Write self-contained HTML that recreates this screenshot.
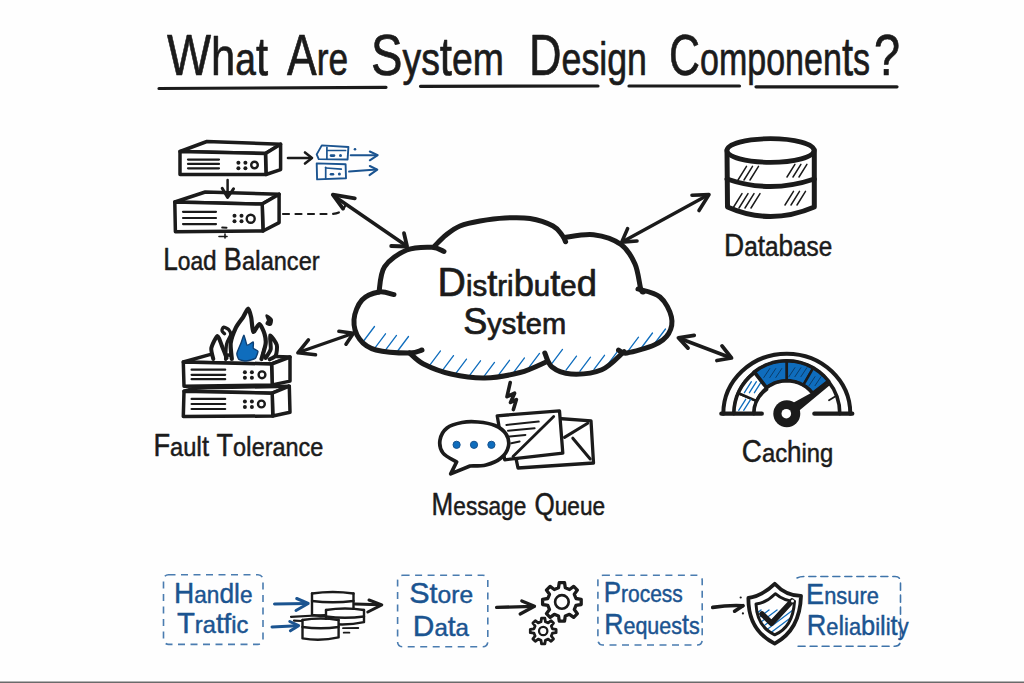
<!DOCTYPE html>
<html><head><meta charset="utf-8"><style>
html,body{margin:0;padding:0;background:#fefefe;}
svg{display:block;font-family:"Liberation Sans",sans-serif;}
</style></head><body>
<svg width="1024" height="683" viewBox="0 0 1024 683">
<rect width="1024" height="683" fill="#fefefe"/>
<text x="167" y="75" fill="#1b1b1b" textLength="101.0" lengthAdjust="spacingAndGlyphs" stroke="#1b1b1b" stroke-width="0.7" stroke-linejoin="round"><tspan font-size="58">W</tspan><tspan font-size="54">h</tspan><tspan font-size="46">a</tspan><tspan font-size="54">t</tspan></text><text x="287" y="75" fill="#1b1b1b" textLength="61.0" lengthAdjust="spacingAndGlyphs" stroke="#1b1b1b" stroke-width="0.7" stroke-linejoin="round"><tspan font-size="58">A</tspan><tspan font-size="46">r</tspan><tspan font-size="46">e</tspan></text><text x="371" y="75" fill="#1b1b1b" textLength="133.0" lengthAdjust="spacingAndGlyphs" stroke="#1b1b1b" stroke-width="0.7" stroke-linejoin="round"><tspan font-size="58">S</tspan><tspan font-size="46">y</tspan><tspan font-size="46">s</tspan><tspan font-size="54">t</tspan><tspan font-size="46">e</tspan><tspan font-size="46">m</tspan></text><text x="529" y="75" fill="#1b1b1b" textLength="118.0" lengthAdjust="spacingAndGlyphs" stroke="#1b1b1b" stroke-width="0.7" stroke-linejoin="round"><tspan font-size="58">D</tspan><tspan font-size="46">e</tspan><tspan font-size="46">s</tspan><tspan font-size="46">i</tspan><tspan font-size="46">g</tspan><tspan font-size="46">n</tspan></text><text x="669" y="75" fill="#1b1b1b" textLength="201.0" lengthAdjust="spacingAndGlyphs" stroke="#1b1b1b" stroke-width="0.7" stroke-linejoin="round"><tspan font-size="58">C</tspan><tspan font-size="46">o</tspan><tspan font-size="46">m</tspan><tspan font-size="46">p</tspan><tspan font-size="46">o</tspan><tspan font-size="46">n</tspan><tspan font-size="46">e</tspan><tspan font-size="46">n</tspan><tspan font-size="54">t</tspan><tspan font-size="46">s</tspan></text><text x="874" y="75" fill="#1b1b1b" textLength="26.0" lengthAdjust="spacingAndGlyphs" stroke="#1b1b1b" stroke-width="0.7" stroke-linejoin="round"><tspan font-size="58">?</tspan></text>
<path d="M159 88.5 Q270 87.8 386 87.3" fill="none" stroke="#1b1b1b" stroke-width="3.2" stroke-linecap="round" stroke-linejoin="round" />
<path d="M420.5 86.3 Q510 86 598 86" fill="none" stroke="#1b1b1b" stroke-width="3.2" stroke-linecap="round" stroke-linejoin="round" />
<path d="M629 86 Q690 86 739.5 86" fill="none" stroke="#1b1b1b" stroke-width="3.2" stroke-linecap="round" stroke-linejoin="round" />
<path d="M756 86.8 Q830 86.5 897 86.8" fill="none" stroke="#1b1b1b" stroke-width="3.2" stroke-linecap="round" stroke-linejoin="round" />
<path d="M180.0 151.5 L206.9 141.5 L280.6 144.2 L265.5 153.4Z" fill="#fff" stroke="#1b1b1b" stroke-width="3.5" stroke-linecap="round" stroke-linejoin="round" /><path d="M265.5 153.4 L280.6 144.2 L280.6 169.6 L266.0 174.5Z" fill="#fff" stroke="#1b1b1b" stroke-width="3.5" stroke-linecap="round" stroke-linejoin="round" /><path d="M180.0 151.5 L265.5 153.4 L266.0 174.5 L180.0 174.5Z" fill="#fff" stroke="#1b1b1b" stroke-width="3.5" stroke-linecap="round" stroke-linejoin="round" /><line x1="188.0" y1="159.6" x2="219.0" y2="159.6" stroke="#1b1b1b" stroke-width="2.2" stroke-linecap="round" /><line x1="188.0" y1="163.9" x2="219.0" y2="163.9" stroke="#1b1b1b" stroke-width="2.2" stroke-linecap="round" /><line x1="188.0" y1="168.3" x2="219.0" y2="168.3" stroke="#1b1b1b" stroke-width="2.2" stroke-linecap="round" /><circle cx="238.4" cy="162.7" r="2.0" fill="#1b1b1b"/><circle cx="238.4" cy="168.2" r="2.0" fill="#1b1b1b"/><circle cx="245.4" cy="162.7" r="2.0" fill="#1b1b1b"/><circle cx="245.4" cy="168.2" r="2.0" fill="#1b1b1b"/><circle cx="254.5" cy="165" r="3.3" fill="none" stroke="#1b1b1b" stroke-width="2.4"/>
<path d="M174.8 202.0 L205.3 192.0 L279.1 194.2 L262.2 204.1Z" fill="#fff" stroke="#1b1b1b" stroke-width="3.5" stroke-linecap="round" stroke-linejoin="round" /><path d="M262.2 204.1 L279.1 194.2 L279.1 222.6 L263.0 231.0Z" fill="#fff" stroke="#1b1b1b" stroke-width="3.5" stroke-linecap="round" stroke-linejoin="round" /><path d="M174.8 202.0 L262.2 204.1 L263.0 231.0 L175.4 231.8Z" fill="#fff" stroke="#1b1b1b" stroke-width="3.5" stroke-linecap="round" stroke-linejoin="round" /><line x1="183.0" y1="211.8" x2="216.0" y2="211.8" stroke="#1b1b1b" stroke-width="2.2" stroke-linecap="round" /><line x1="183.0" y1="218.0" x2="216.0" y2="218.0" stroke="#1b1b1b" stroke-width="2.2" stroke-linecap="round" /><line x1="183.0" y1="224.1" x2="216.0" y2="224.1" stroke="#1b1b1b" stroke-width="2.2" stroke-linecap="round" /><circle cx="234.5" cy="215.7" r="2.0" fill="#1b1b1b"/><circle cx="234.5" cy="221.2" r="2.0" fill="#1b1b1b"/><circle cx="241.5" cy="215.7" r="2.0" fill="#1b1b1b"/><circle cx="241.5" cy="221.2" r="2.0" fill="#1b1b1b"/><circle cx="250.7" cy="218.7" r="4.0" fill="none" stroke="#1b1b1b" stroke-width="2.4"/>
<line x1="222.2" y1="227.5" x2="226.5" y2="227.8" stroke="#1b1b1b" stroke-width="2" stroke-linecap="round" />
<line x1="219.0" y1="236.5" x2="227.0" y2="236.5" stroke="#1b1b1b" stroke-width="1.6" stroke-linecap="round" />
<line x1="225.0" y1="234.0" x2="225.0" y2="238.0" stroke="#1b1b1b" stroke-width="1.6" stroke-linecap="round" />
<line x1="227.6" y1="180.0" x2="227.6" y2="196.5" stroke="#1b1b1b" stroke-width="2.5" stroke-linecap="round" />
<path d="M222.2 188.3 L227.6 197.5 L233.5 188.8" fill="none" stroke="#1b1b1b" stroke-width="3" stroke-linecap="round" stroke-linejoin="round" />
<line x1="288.0" y1="158.0" x2="311.0" y2="158.0" stroke="#1b1b1b" stroke-width="2.6" stroke-linecap="round" />
<path d="M305.0 152.5 L312.0 158.0 L305.0 163.5" fill="none" stroke="#1b1b1b" stroke-width="2.6" stroke-linecap="round" stroke-linejoin="round" />
<path d="M321.8 145.4 L348.4 147.0 L347.6 159.5 L318.7 159.1 L316.7 154.4Z" fill="none" stroke="#1b5490" stroke-width="1.9" stroke-linecap="round" stroke-linejoin="round" />
<line x1="326.9" y1="147.4" x2="326.9" y2="159.0" stroke="#1b5490" stroke-width="1.7" stroke-linecap="round" />
<line x1="327.7" y1="150.5" x2="345.6" y2="150.5" stroke="#1b5490" stroke-width="1.7" stroke-linecap="round" />
<line x1="331.0" y1="155.6" x2="334.0" y2="155.6" stroke="#1b5490" stroke-width="2.6" stroke-linecap="round" />
<circle cx="340.5" cy="155.6" r="1.5" fill="#1b5490"/>
<circle cx="355" cy="149.3" r="1.3" fill="#1b5490"/>
<path d="M316.7 163.4 L345.6 164.2 L346.0 178.2 L317.1 179.4Z" fill="none" stroke="#1b5490" stroke-width="1.9" stroke-linecap="round" stroke-linejoin="round" />
<line x1="325.7" y1="167.3" x2="325.7" y2="178.6" stroke="#1b5490" stroke-width="1.7" stroke-linecap="round" />
<line x1="326.0" y1="168.0" x2="341.3" y2="169.2" stroke="#1b5490" stroke-width="1.7" stroke-linecap="round" />
<line x1="331.0" y1="174.3" x2="333.0" y2="174.3" stroke="#1b5490" stroke-width="2.6" stroke-linecap="round" />
<circle cx="339.4" cy="174" r="1.5" fill="#1b5490"/>
<line x1="350.7" y1="155.2" x2="377.0" y2="155.2" stroke="#1b5490" stroke-width="2" stroke-linecap="round" />
<path d="M369.8 151.5 L377.7 155.2 L369.8 160.3" fill="none" stroke="#1b5490" stroke-width="2" stroke-linecap="round" stroke-linejoin="round" />
<line x1="349.1" y1="171.6" x2="376.5" y2="169.6" stroke="#1b5490" stroke-width="2" stroke-linecap="round" />
<path d="M369.8 166.0 L377.3 169.6 L369.5 175.1" fill="none" stroke="#1b5490" stroke-width="2" stroke-linecap="round" stroke-linejoin="round" />
<path d="M283 214 L330 214 Q342 214 345 206" fill="none" stroke="#1b1b1b" stroke-width="2.2" stroke-linecap="round" stroke-linejoin="round" stroke-dasharray="6 6.5"/>
<text x="163.2" y="270" fill="#1b1b1b" textLength="53.5" lengthAdjust="spacingAndGlyphs" stroke="#1b1b1b" stroke-width="0.5" stroke-linejoin="round"><tspan font-size="30.5">L</tspan><tspan font-size="26.5">o</tspan><tspan font-size="26.5">a</tspan><tspan font-size="28.5">d</tspan></text><text x="223.8" y="270" fill="#1b1b1b" textLength="95.8" lengthAdjust="spacingAndGlyphs" stroke="#1b1b1b" stroke-width="0.5" stroke-linejoin="round"><tspan font-size="30.5">B</tspan><tspan font-size="26.5">a</tspan><tspan font-size="28.5">l</tspan><tspan font-size="26.5">a</tspan><tspan font-size="26.5">n</tspan><tspan font-size="26.5">c</tspan><tspan font-size="26.5">e</tspan><tspan font-size="26.5">r</tspan></text>
<defs><clipPath id="cc"><path d="M354.0 319.6 C353.6 326.1 355.8 333.9 359.5 339.0 C363.2 344.1 367.6 347.7 376.0 350.0 C384.4 352.3 401.7 350.7 409.6 353.0 C417.5 355.3 416.6 360.5 423.5 364.0 C430.4 367.5 440.8 371.7 451.0 374.0 C461.2 376.3 473.2 378.2 484.7 378.0 C496.2 377.8 509.8 375.2 520.0 372.5 C530.2 369.8 537.5 361.8 546.0 362.0 C554.5 362.2 561.7 372.7 571.0 374.0 C580.3 375.3 592.5 373.2 601.8 369.7 C611.1 366.2 618.1 357.2 626.9 353.0 C635.7 348.8 647.8 347.9 654.7 344.7 C661.7 341.5 665.8 338.2 668.6 333.6 C671.4 329.0 672.8 323.0 671.4 316.9 C670.0 310.8 665.1 301.6 660.0 297.0 C654.9 292.4 645.0 294.5 640.8 289.0 C636.6 283.5 638.3 271.4 635.0 264.0 C631.7 256.6 627.9 249.4 621.0 244.5 C614.1 239.6 603.0 236.0 593.5 234.8 C584.0 233.7 570.8 239.1 564.0 237.6 C557.2 236.1 558.7 229.2 553.0 226.0 C547.3 222.8 538.0 219.8 530.0 218.5 C522.0 217.2 513.3 217.6 505.0 218.0 C496.7 218.4 487.5 219.5 480.0 221.0 C472.5 222.5 465.7 224.2 460.0 227.0 C454.3 229.8 450.2 234.8 446.0 238.0 C441.8 241.2 441.1 244.0 434.6 246.0 C428.1 248.0 415.2 246.5 406.8 250.0 C398.4 253.5 389.1 259.8 384.5 266.8 C379.9 273.8 382.8 286.5 379.0 292.0 C375.2 297.5 366.2 295.4 362.0 300.0 C357.8 304.6 354.4 313.1 354.0 319.6Z"/></clipPath></defs>
<path d="M354.0 319.6 C353.6 326.1 355.8 333.9 359.5 339.0 C363.2 344.1 367.6 347.7 376.0 350.0 C384.4 352.3 401.7 350.7 409.6 353.0 C417.5 355.3 416.6 360.5 423.5 364.0 C430.4 367.5 440.8 371.7 451.0 374.0 C461.2 376.3 473.2 378.2 484.7 378.0 C496.2 377.8 509.8 375.2 520.0 372.5 C530.2 369.8 537.5 361.8 546.0 362.0 C554.5 362.2 561.7 372.7 571.0 374.0 C580.3 375.3 592.5 373.2 601.8 369.7 C611.1 366.2 618.1 357.2 626.9 353.0 C635.7 348.8 647.8 347.9 654.7 344.7 C661.7 341.5 665.8 338.2 668.6 333.6 C671.4 329.0 672.8 323.0 671.4 316.9 C670.0 310.8 665.1 301.6 660.0 297.0 C654.9 292.4 645.0 294.5 640.8 289.0 C636.6 283.5 638.3 271.4 635.0 264.0 C631.7 256.6 627.9 249.4 621.0 244.5 C614.1 239.6 603.0 236.0 593.5 234.8 C584.0 233.7 570.8 239.1 564.0 237.6 C557.2 236.1 558.7 229.2 553.0 226.0 C547.3 222.8 538.0 219.8 530.0 218.5 C522.0 217.2 513.3 217.6 505.0 218.0 C496.7 218.4 487.5 219.5 480.0 221.0 C472.5 222.5 465.7 224.2 460.0 227.0 C454.3 229.8 450.2 234.8 446.0 238.0 C441.8 241.2 441.1 244.0 434.6 246.0 C428.1 248.0 415.2 246.5 406.8 250.0 C398.4 253.5 389.1 259.8 384.5 266.8 C379.9 273.8 382.8 286.5 379.0 292.0 C375.2 297.5 366.2 295.4 362.0 300.0 C357.8 304.6 354.4 313.1 354.0 319.6Z" fill="#fff" stroke="none" stroke-width="0" stroke-linecap="round" stroke-linejoin="round" />
<g clip-path="url(#cc)"><line x1="364.0" y1="340.5" x2="374.5" y2="326.5" stroke="#0f6dbd" stroke-width="1.3" stroke-linecap="round" /><line x1="375.0" y1="347.8" x2="385.5" y2="333.8" stroke="#0f6dbd" stroke-width="1.3" stroke-linecap="round" /><line x1="386.0" y1="349.4" x2="396.5" y2="335.4" stroke="#0f6dbd" stroke-width="1.3" stroke-linecap="round" /><line x1="398.0" y1="350.5" x2="408.5" y2="336.5" stroke="#0f6dbd" stroke-width="1.3" stroke-linecap="round" /><line x1="430.0" y1="364.9" x2="440.5" y2="350.9" stroke="#0f6dbd" stroke-width="1.3" stroke-linecap="round" /><line x1="443.0" y1="369.6" x2="453.5" y2="355.6" stroke="#0f6dbd" stroke-width="1.3" stroke-linecap="round" /><line x1="456.0" y1="373.1" x2="466.5" y2="359.1" stroke="#0f6dbd" stroke-width="1.3" stroke-linecap="round" /><line x1="470.0" y1="374.8" x2="480.5" y2="360.8" stroke="#0f6dbd" stroke-width="1.3" stroke-linecap="round" /><line x1="484.0" y1="376.4" x2="494.5" y2="362.4" stroke="#0f6dbd" stroke-width="1.3" stroke-linecap="round" /><line x1="499.0" y1="374.3" x2="509.5" y2="360.3" stroke="#0f6dbd" stroke-width="1.3" stroke-linecap="round" /><line x1="514.0" y1="371.9" x2="524.5" y2="357.9" stroke="#0f6dbd" stroke-width="1.3" stroke-linecap="round" /><line x1="529.0" y1="367.4" x2="539.5" y2="353.4" stroke="#0f6dbd" stroke-width="1.3" stroke-linecap="round" /><line x1="552.0" y1="363.4" x2="562.5" y2="349.4" stroke="#0f6dbd" stroke-width="1.3" stroke-linecap="round" /><line x1="566.0" y1="370.1" x2="576.5" y2="356.1" stroke="#0f6dbd" stroke-width="1.3" stroke-linecap="round" /><line x1="580.0" y1="371.2" x2="590.5" y2="357.2" stroke="#0f6dbd" stroke-width="1.3" stroke-linecap="round" /><line x1="594.0" y1="369.3" x2="604.5" y2="355.3" stroke="#0f6dbd" stroke-width="1.3" stroke-linecap="round" /><line x1="608.0" y1="364.1" x2="618.5" y2="350.1" stroke="#0f6dbd" stroke-width="1.3" stroke-linecap="round" /><line x1="628.0" y1="351.2" x2="638.5" y2="337.2" stroke="#0f6dbd" stroke-width="1.3" stroke-linecap="round" /><line x1="642.0" y1="347.0" x2="652.5" y2="333.0" stroke="#0f6dbd" stroke-width="1.3" stroke-linecap="round" /><line x1="655.0" y1="343.0" x2="665.5" y2="329.0" stroke="#0f6dbd" stroke-width="1.3" stroke-linecap="round" /></g>
<path d="M394.0 294.6 C391.5 294.2 384.3 291.1 379.0 292.0 C373.7 292.9 366.2 295.4 362.0 300.0 C357.8 304.6 354.4 313.1 354.0 319.6 C353.6 326.1 355.8 333.9 359.5 339.0 C363.2 344.1 367.6 347.7 376.0 350.0 C384.4 352.3 401.9 353.0 409.6 353.0 C417.3 353.0 419.9 350.5 422.0 350.0" fill="none" stroke="#1b1b1b" stroke-width="5" stroke-linecap="round" stroke-linejoin="round" />
<path d="M379.0 292.0 C379.9 287.8 379.9 273.8 384.5 266.8 C389.1 259.8 398.9 253.2 406.8 250.0 C414.7 246.8 425.6 247.1 431.8 247.3 C438.0 247.6 442.0 250.8 444.0 251.5" fill="none" stroke="#1b1b1b" stroke-width="5" stroke-linecap="round" stroke-linejoin="round" />
<path d="M434.6 246.0 C436.5 244.2 441.8 238.3 446.0 235.0 C450.2 231.7 454.3 228.3 460.0 226.0 C465.7 223.7 472.5 222.3 480.0 221.0 C487.5 219.7 496.7 218.4 505.0 218.0 C513.3 217.6 522.0 217.2 530.0 218.5 C538.0 219.8 547.7 223.2 553.0 226.0 C558.3 228.8 559.9 232.4 562.0 235.0 C564.1 237.6 565.0 240.6 565.6 241.7" fill="none" stroke="#1b1b1b" stroke-width="5" stroke-linecap="round" stroke-linejoin="round" />
<path d="M564.0 237.6 C568.9 237.1 584.0 233.7 593.5 234.8 C603.0 236.0 614.1 239.6 621.0 244.5 C627.9 249.4 631.7 256.6 635.0 264.0 C638.3 271.4 639.4 284.4 640.8 289.0 C642.2 293.6 643.1 291.3 643.6 291.8" fill="none" stroke="#1b1b1b" stroke-width="5" stroke-linecap="round" stroke-linejoin="round" />
<path d="M638.0 289.0 C641.7 290.3 654.4 292.4 660.0 297.0 C665.6 301.6 670.0 310.8 671.4 316.9 C672.8 323.0 671.4 329.0 668.6 333.6 C665.8 338.2 661.7 341.5 654.7 344.7 C647.8 347.9 632.9 352.1 626.9 353.0 C620.9 353.9 619.9 350.5 618.5 350.0" fill="none" stroke="#1b1b1b" stroke-width="5" stroke-linecap="round" stroke-linejoin="round" />
<path d="M624.0 351.6 C620.3 354.6 610.6 366.0 601.8 369.7 C593.0 373.4 579.3 374.4 571.0 374.0 C562.7 373.6 556.4 370.5 552.0 367.0 C547.6 363.5 546.0 355.3 544.8 353.0" fill="none" stroke="#1b1b1b" stroke-width="5" stroke-linecap="round" stroke-linejoin="round" />
<path d="M546.0 362.0 C541.7 363.8 530.2 369.8 520.0 372.5 C509.8 375.2 496.2 377.8 484.7 378.0 C473.2 378.2 461.2 376.3 451.0 374.0 C440.8 371.7 430.4 367.5 423.5 364.0 C416.6 360.5 411.9 354.8 409.6 353.0" fill="none" stroke="#1b1b1b" stroke-width="5" stroke-linecap="round" stroke-linejoin="round" />
<text x="437.6" y="296" fill="#1b1b1b" textLength="159.3" lengthAdjust="spacingAndGlyphs" stroke="#1b1b1b" stroke-width="0.7" stroke-linejoin="round"><tspan font-size="40">D</tspan><tspan font-size="30">i</tspan><tspan font-size="30">s</tspan><tspan font-size="37">t</tspan><tspan font-size="30">r</tspan><tspan font-size="30">i</tspan><tspan font-size="37">b</tspan><tspan font-size="30">u</tspan><tspan font-size="37">t</tspan><tspan font-size="30">e</tspan><tspan font-size="37">d</tspan></text>
<text x="463.2" y="334.3" fill="#1b1b1b" textLength="102.9" lengthAdjust="spacingAndGlyphs" stroke="#1b1b1b" stroke-width="0.7" stroke-linejoin="round"><tspan font-size="36">S</tspan><tspan font-size="29">y</tspan><tspan font-size="29">s</tspan><tspan font-size="34">t</tspan><tspan font-size="29">e</tspan><tspan font-size="29">m</tspan></text>
<line x1="334.0" y1="196.0" x2="406.0" y2="245.5" stroke="#1b1b1b" stroke-width="3.5" stroke-linecap="round" />
<path d="M354.8 198.3 L332.8 194.7 L343.0 208.6" fill="none" stroke="#1b1b1b" stroke-width="3.8" stroke-linecap="round" stroke-linejoin="round" />
<path d="M404.0 233.2 L407.1 246.5 L391.2 246.0" fill="none" stroke="#1b1b1b" stroke-width="3.8" stroke-linecap="round" stroke-linejoin="round" />
<line x1="708.0" y1="195.0" x2="623.0" y2="241.5" stroke="#1b1b1b" stroke-width="3.3" stroke-linecap="round" />
<path d="M692.0 195.2 L709.0 194.6 L699.0 210.5" fill="none" stroke="#1b1b1b" stroke-width="3.6" stroke-linecap="round" stroke-linejoin="round" />
<path d="M627.6 228.6 L621.7 242.1 L637.0 241.0" fill="none" stroke="#1b1b1b" stroke-width="3.6" stroke-linecap="round" stroke-linejoin="round" />
<line x1="299.0" y1="352.3" x2="352.0" y2="333.8" stroke="#1b1b1b" stroke-width="3.3" stroke-linecap="round" />
<path d="M308.4 339.9 L297.9 352.8 L315.5 354.8" fill="none" stroke="#1b1b1b" stroke-width="3.6" stroke-linecap="round" stroke-linejoin="round" />
<path d="M338.9 331.3 L353.4 333.3 L346.0 344.2" fill="none" stroke="#1b1b1b" stroke-width="3.6" stroke-linecap="round" stroke-linejoin="round" />
<line x1="680.0" y1="338.5" x2="730.0" y2="357.5" stroke="#1b1b1b" stroke-width="3.5" stroke-linecap="round" />
<path d="M694.2 335.3 L678.4 337.8 L688.0 348.1" fill="none" stroke="#1b1b1b" stroke-width="3.8" stroke-linecap="round" stroke-linejoin="round" />
<path d="M722.0 345.9 L731.5 358.0 L716.9 360.5" fill="none" stroke="#1b1b1b" stroke-width="3.8" stroke-linecap="round" stroke-linejoin="round" />
<path d="M727 150 L727.5 207 Q770 226 814.3 207 L814.3 150" fill="#fff" stroke="#1b1b1b" stroke-width="5" stroke-linecap="round" stroke-linejoin="round" />
<path d="M727 179 Q770 194 814.3 179" fill="none" stroke="#1b1b1b" stroke-width="5" stroke-linecap="round" stroke-linejoin="round" />
<ellipse cx="770.5" cy="150.5" rx="43.5" ry="11.8" fill="#fff" stroke="#1b1b1b" stroke-width="4.8"/>
<line x1="738.0" y1="180.0" x2="746.5" y2="166.4" stroke="#1b1b1b" stroke-width="1.5" stroke-linecap="round" /><line x1="744.0" y1="180.0" x2="752.5" y2="166.4" stroke="#1b1b1b" stroke-width="1.5" stroke-linecap="round" /><line x1="750.0" y1="180.0" x2="758.5" y2="166.4" stroke="#1b1b1b" stroke-width="1.5" stroke-linecap="round" />
<line x1="787.0" y1="177.0" x2="794.9" y2="164.3" stroke="#1b1b1b" stroke-width="1.5" stroke-linecap="round" /><line x1="793.0" y1="177.0" x2="800.9" y2="164.3" stroke="#1b1b1b" stroke-width="1.5" stroke-linecap="round" /><line x1="799.0" y1="177.0" x2="806.9" y2="164.3" stroke="#1b1b1b" stroke-width="1.5" stroke-linecap="round" />
<line x1="733.0" y1="208.0" x2="742.0" y2="193.6" stroke="#1b1b1b" stroke-width="1.5" stroke-linecap="round" /><line x1="739.0" y1="208.0" x2="748.0" y2="193.6" stroke="#1b1b1b" stroke-width="1.5" stroke-linecap="round" /><line x1="745.0" y1="208.0" x2="754.0" y2="193.6" stroke="#1b1b1b" stroke-width="1.5" stroke-linecap="round" /><line x1="751.0" y1="208.0" x2="760.0" y2="193.6" stroke="#1b1b1b" stroke-width="1.5" stroke-linecap="round" />
<line x1="785.0" y1="205.0" x2="793.5" y2="191.4" stroke="#1b1b1b" stroke-width="1.5" stroke-linecap="round" /><line x1="791.0" y1="205.0" x2="799.5" y2="191.4" stroke="#1b1b1b" stroke-width="1.5" stroke-linecap="round" /><line x1="797.0" y1="205.0" x2="805.5" y2="191.4" stroke="#1b1b1b" stroke-width="1.5" stroke-linecap="round" />
<text x="724.0" y="255.5" fill="#1b1b1b" textLength="108.3" lengthAdjust="spacingAndGlyphs" stroke="#1b1b1b" stroke-width="0.5" stroke-linejoin="round"><tspan font-size="31">D</tspan><tspan font-size="27">a</tspan><tspan font-size="29">t</tspan><tspan font-size="27">a</tspan><tspan font-size="29">b</tspan><tspan font-size="27">a</tspan><tspan font-size="27">s</tspan><tspan font-size="27">e</tspan></text>
<path d="M183.3 362.0 L210.6 354.4 L290.0 357.0 L271.6 364.0Z" fill="#fff" stroke="#1b1b1b" stroke-width="3.5" stroke-linecap="round" stroke-linejoin="round" /><path d="M271.6 364.0 L290.0 357.0 L290.0 381.1 L272.2 384.9Z" fill="#fff" stroke="#1b1b1b" stroke-width="3.5" stroke-linecap="round" stroke-linejoin="round" /><path d="M183.3 362.0 L271.6 364.0 L272.2 384.9 L184.0 386.2Z" fill="#fff" stroke="#1b1b1b" stroke-width="3.5" stroke-linecap="round" stroke-linejoin="round" /><line x1="191.6" y1="369.7" x2="225.2" y2="369.7" stroke="#1b1b1b" stroke-width="2.2" stroke-linecap="round" /><line x1="191.6" y1="374.8" x2="225.2" y2="374.8" stroke="#1b1b1b" stroke-width="2.2" stroke-linecap="round" /><line x1="191.6" y1="379.2" x2="225.2" y2="379.2" stroke="#1b1b1b" stroke-width="2.2" stroke-linecap="round" /><circle cx="244.9" cy="372.2" r="2.0" fill="#1b1b1b"/><circle cx="244.9" cy="377.7" r="2.0" fill="#1b1b1b"/><circle cx="251.9" cy="372.2" r="2.0" fill="#1b1b1b"/><circle cx="251.9" cy="377.7" r="2.0" fill="#1b1b1b"/><circle cx="262" cy="374.8" r="3.4" fill="none" stroke="#1b1b1b" stroke-width="2.4"/>
<path d="M184.0 391.3 L195.4 388.0 L289.3 386.2 L272.2 393.2Z" fill="#fff" stroke="#1b1b1b" stroke-width="3.5" stroke-linecap="round" stroke-linejoin="round" /><path d="M272.2 393.2 L289.3 386.2 L290.0 412.2 L272.8 416.0Z" fill="#fff" stroke="#1b1b1b" stroke-width="3.5" stroke-linecap="round" stroke-linejoin="round" /><path d="M184.0 391.3 L272.2 393.2 L272.8 416.0 L183.3 416.6Z" fill="#fff" stroke="#1b1b1b" stroke-width="3.5" stroke-linecap="round" stroke-linejoin="round" /><line x1="191.6" y1="398.9" x2="225.2" y2="398.9" stroke="#1b1b1b" stroke-width="2.2" stroke-linecap="round" /><line x1="191.6" y1="404.0" x2="225.2" y2="404.0" stroke="#1b1b1b" stroke-width="2.2" stroke-linecap="round" /><line x1="191.6" y1="409.0" x2="225.2" y2="409.0" stroke="#1b1b1b" stroke-width="2.2" stroke-linecap="round" /><circle cx="244.9" cy="401.4" r="2.0" fill="#1b1b1b"/><circle cx="244.9" cy="406.9" r="2.0" fill="#1b1b1b"/><circle cx="251.9" cy="401.4" r="2.0" fill="#1b1b1b"/><circle cx="251.9" cy="406.9" r="2.0" fill="#1b1b1b"/><circle cx="261.4" cy="404" r="3.4" fill="none" stroke="#1b1b1b" stroke-width="2.4"/>
<path d="M213.3 359.0 C213.1 357.7 210.8 350.9 211.3 348.2 C211.8 345.5 216.2 336.2 217.4 336.0 C218.6 335.8 220.9 343.5 222.0 346.1 C223.1 348.7 226.1 356.6 226.6 358.0" fill="#fff" stroke="#1b1b1b" stroke-width="4" stroke-linecap="round" stroke-linejoin="round" />
<path d="M265.6 358.0 C266.2 357.0 270.2 351.8 270.7 349.2 C271.2 346.6 269.5 336.0 270.2 335.5 C270.9 335.0 276.1 342.7 276.8 345.0 C277.5 347.3 276.6 353.6 275.8 355.3 C275.0 357.0 270.4 358.9 269.7 359.4" fill="#fff" stroke="#1b1b1b" stroke-width="4" stroke-linecap="round" stroke-linejoin="round" />
<path d="M231.8 359.0 C231.7 357.1 230.2 346.7 230.7 343.0 C231.2 339.3 234.5 330.7 235.9 327.7 C237.3 324.7 241.6 319.6 243.0 317.4 C244.4 315.2 247.2 308.7 248.2 308.7 C249.2 308.7 250.6 314.7 251.2 317.4 C251.8 320.1 252.3 331.0 253.3 331.8 C254.3 332.6 258.1 323.9 259.4 324.1 C260.7 324.3 263.8 331.5 264.5 333.8 C265.2 336.1 266.0 341.1 265.6 344.0 C265.2 346.9 262.0 357.2 261.5 359.0" fill="#fff" stroke="#1b1b1b" stroke-width="4.2" stroke-linecap="round" stroke-linejoin="round" />
<path d="M225.6 359.4 C225.7 357.3 225.9 347.3 226.6 344.0 C227.3 340.7 230.4 336.7 230.7 334.8 C231.0 332.9 229.6 330.7 228.7 329.7 C227.8 328.7 224.5 327.1 223.6 327.2 C222.7 327.3 221.9 329.8 222.0 330.7 C222.1 331.6 224.3 333.4 224.6 333.8" fill="none" stroke="#1b1b1b" stroke-width="3.3" stroke-linecap="round" stroke-linejoin="round" />
<path d="M236.9 353.3 C237.1 351.9 240.4 344.5 241.0 343.0 C241.6 341.5 243.5 335.1 244.0 335.3 C244.5 335.5 246.3 344.5 247.1 345.1 C247.9 345.7 252.8 341.7 253.3 342.0 C253.8 342.3 252.9 347.4 253.3 348.2 C253.7 349.0 257.7 350.3 257.9 351.2 C258.1 352.1 256.3 357.6 255.3 358.4 C254.3 359.2 247.5 360.9 246.1 361.0 C244.7 361.1 239.7 360.0 238.9 359.4 C238.1 358.8 236.7 354.7 236.9 353.3Z" fill="#0f6dbd" stroke="#0d3f73" stroke-width="1.4" stroke-linecap="round" stroke-linejoin="round" />
<path d="M266.6 315.4 C267.0 315.3 271.2 318.4 271.7 319.5 C272.2 320.6 271.3 324.1 270.7 324.6 C270.1 325.1 266.9 324.1 266.6 323.6 C266.3 323.1 268.1 321.5 268.1 320.5 C268.1 319.5 266.2 315.5 266.6 315.4Z" fill="#1b1b1b" stroke="#1b1b1b" stroke-width="2.4" stroke-linecap="round" stroke-linejoin="round" />
<path d="M263.5 348.2 L261.5 355.3" fill="none" stroke="#1b1b1b" stroke-width="1.3" stroke-linecap="round" stroke-linejoin="round" />
<text x="153.4" y="455.6" fill="#1b1b1b" textLength="55.7" lengthAdjust="spacingAndGlyphs" stroke="#1b1b1b" stroke-width="0.5" stroke-linejoin="round"><tspan font-size="30.5">F</tspan><tspan font-size="26.5">a</tspan><tspan font-size="26.5">u</tspan><tspan font-size="28.5">l</tspan><tspan font-size="28.5">t</tspan></text><text x="216.5" y="455.6" fill="#1b1b1b" textLength="106.8" lengthAdjust="spacingAndGlyphs" stroke="#1b1b1b" stroke-width="0.5" stroke-linejoin="round"><tspan font-size="30.5">T</tspan><tspan font-size="26.5">o</tspan><tspan font-size="28.5">l</tspan><tspan font-size="26.5">e</tspan><tspan font-size="26.5">r</tspan><tspan font-size="26.5">a</tspan><tspan font-size="26.5">n</tspan><tspan font-size="26.5">c</tspan><tspan font-size="26.5">e</tspan></text>
<path d="M510.2 382.6 L507.0 396.7 L514.6 393.2 L510.5 402.5 L516.4 399.6 L513.4 409.6" fill="none" stroke="#1b1b1b" stroke-width="3.6" stroke-linecap="round" stroke-linejoin="round" />
<path d="M552.0 418.0 L591.0 420.8 L593.5 463.0 L518.0 468.0 L516.3 459.8Z" fill="#fff" stroke="#1b1b1b" stroke-width="3.3" stroke-linecap="round" stroke-linejoin="round" />
<path d="M564.5 437.4 L587.7 423.2" fill="none" stroke="#1b1b1b" stroke-width="3" stroke-linecap="round" stroke-linejoin="round" />
<path d="M572.8 438.2 L590.2 459.0" fill="none" stroke="#1b1b1b" stroke-width="3" stroke-linecap="round" stroke-linejoin="round" />
<path d="M497.2 415.8 L559.5 410.8 L562.8 453.1 L504.7 459.8Z" fill="#fff" stroke="#1b1b1b" stroke-width="3.3" stroke-linecap="round" stroke-linejoin="round" />
<line x1="513.0" y1="456.4" x2="553.7" y2="416.6" stroke="#1b1b1b" stroke-width="2.8" stroke-linecap="round" />
<line x1="506.4" y1="424.9" x2="538.7" y2="421.6" stroke="#1b1b1b" stroke-width="2.0" stroke-linecap="round" />
<line x1="508.0" y1="430.7" x2="534.6" y2="428.2" stroke="#1b1b1b" stroke-width="2.0" stroke-linecap="round" />
<line x1="509.7" y1="436.5" x2="525.4" y2="434.9" stroke="#1b1b1b" stroke-width="2.0" stroke-linecap="round" />
<line x1="511.3" y1="443.2" x2="519.6" y2="441.5" stroke="#1b1b1b" stroke-width="2.0" stroke-linecap="round" />
<path d="M456.6 462.0 C454.3 460.5 445.8 456.7 443.0 453.0 C440.2 449.3 439.3 444.2 440.0 440.0 C440.7 435.8 443.3 430.9 447.0 428.0 C450.7 425.1 456.8 423.5 462.0 422.5 C467.2 421.5 472.5 421.5 478.0 422.0 C483.5 422.5 490.3 423.5 495.0 425.5 C499.7 427.5 503.8 430.6 506.0 434.0 C508.2 437.4 509.3 442.0 508.5 446.0 C507.7 450.0 504.8 454.8 501.0 458.0 C497.2 461.2 491.2 463.7 486.0 465.0 C480.8 466.3 472.7 465.8 470.0 466.0 L450.7 473.9 L456.6 462" fill="#fff" stroke="#1b1b1b" stroke-width="3.7" stroke-linecap="round" stroke-linejoin="round" />
<circle cx="456.6" cy="444.8" r="3.6" fill="#0f6dbd" stroke="#17538f" stroke-width="1"/>
<circle cx="474" cy="444.8" r="3.6" fill="#0f6dbd" stroke="#17538f" stroke-width="1"/>
<circle cx="491.4" cy="444.8" r="3.6" fill="#0f6dbd" stroke="#17538f" stroke-width="1"/>
<text x="431.6" y="514.7" fill="#1b1b1b" textLength="94.7" lengthAdjust="spacingAndGlyphs" stroke="#1b1b1b" stroke-width="0.5" stroke-linejoin="round"><tspan font-size="30.5">M</tspan><tspan font-size="26.5">e</tspan><tspan font-size="26.5">s</tspan><tspan font-size="26.5">s</tspan><tspan font-size="26.5">a</tspan><tspan font-size="26.5">g</tspan><tspan font-size="26.5">e</tspan></text><text x="534.5" y="514.7" fill="#1b1b1b" textLength="70.6" lengthAdjust="spacingAndGlyphs" stroke="#1b1b1b" stroke-width="0.5" stroke-linejoin="round"><tspan font-size="30.5">Q</tspan><tspan font-size="26.5">u</tspan><tspan font-size="26.5">e</tspan><tspan font-size="26.5">u</tspan><tspan font-size="26.5">e</tspan></text>
<path d="M754.2 371.9 L756.5 370.2 L759.0 368.6 L761.5 367.1 L764.1 365.8 L766.8 364.6 L769.5 363.6 L772.3 362.7 L775.2 362.0 L778.1 361.4 L781.0 361.0 L783.9 360.8 L786.8 360.7 L786.8 380.7 L785.0 380.8 L783.2 380.9 L781.4 381.2 L779.6 381.5 L777.8 382.0 L776.1 382.5 L774.3 383.1 L772.7 383.9 L771.1 384.7 L769.5 385.6 L768.0 386.6 L766.5 387.7Z" fill="#0f6dbd" stroke="#1b1b1b" stroke-width="2.5" stroke-linecap="round" stroke-linejoin="round" />
<path d="M786.8 360.7 L789.1 360.8 L791.4 360.9 L793.7 361.2 L796.0 361.5 L798.3 362.0 L800.5 362.5 L802.7 363.2 L804.9 363.9 L807.1 364.7 L809.2 365.7 L811.3 366.7 L813.3 367.8 L803.3 385.1 L802.0 384.4 L800.7 383.8 L799.4 383.2 L798.1 382.7 L796.7 382.2 L795.3 381.8 L793.9 381.5 L792.5 381.2 L791.1 381.0 L789.7 380.8 L788.2 380.7 L786.8 380.7Z" fill="#0f6dbd" stroke="#1b1b1b" stroke-width="2.5" stroke-linecap="round" stroke-linejoin="round" />
<path d="M813.3 367.8 L814.8 368.7 L816.2 369.6 L817.6 370.6 L818.9 371.6 L820.3 372.6 L821.6 373.7 L822.8 374.8 L824.1 376.0 L825.2 377.2 L826.4 378.5 L827.5 379.8 L828.6 381.1 L812.8 393.4 L812.1 392.6 L811.5 391.8 L810.7 391.0 L810.0 390.2 L809.2 389.5 L808.4 388.8 L807.6 388.1 L806.8 387.5 L806.0 386.8 L805.1 386.2 L804.2 385.7 L803.3 385.1Z" fill="#0f6dbd" stroke="#1b1b1b" stroke-width="2.5" stroke-linecap="round" stroke-linejoin="round" />
<path d="M733.8 413.7 L733.8 411.9 L733.9 410.2 L734.1 408.4 L734.3 406.6 L734.5 404.9 L734.9 403.1 L735.2 401.4 L735.7 399.7 L736.2 398.0 L736.7 396.3 L737.3 394.6 L738.0 393.0 L756.4 400.8 L756.0 401.8 L755.6 402.9 L755.3 403.9 L755.0 405.0 L754.7 406.0 L754.5 407.1 L754.3 408.2 L754.1 409.3 L754.0 410.4 L753.9 411.5 L753.8 412.6 L753.8 413.7Z" fill="#fff" stroke="#1b1b1b" stroke-width="2.5" stroke-linecap="round" stroke-linejoin="round" />
<path d="M738.0 393.0 L738.9 391.0 L739.9 389.0 L741.0 387.0 L742.2 385.1 L743.4 383.2 L744.8 381.4 L746.2 379.7 L747.6 378.0 L749.2 376.4 L750.8 374.8 L752.4 373.3 L754.2 371.9 L766.5 387.7 L765.4 388.6 L764.4 389.5 L763.4 390.5 L762.4 391.5 L761.5 392.5 L760.6 393.6 L759.8 394.7 L759.0 395.9 L758.3 397.1 L757.6 398.3 L757.0 399.5 L756.4 400.8Z" fill="#fff" stroke="#1b1b1b" stroke-width="2.5" stroke-linecap="round" stroke-linejoin="round" />
<line x1="738.7" y1="410.3" x2="745.7" y2="399.3" stroke="#0f6dbd" stroke-width="1.3" stroke-linecap="round" />
<line x1="743.7" y1="410.3" x2="750.7" y2="399.3" stroke="#0f6dbd" stroke-width="1.3" stroke-linecap="round" />
<line x1="744.4" y1="392.7" x2="751.4" y2="381.7" stroke="#0f6dbd" stroke-width="1.3" stroke-linecap="round" />
<line x1="749.4" y1="392.7" x2="756.4" y2="381.7" stroke="#0f6dbd" stroke-width="1.3" stroke-linecap="round" />
<line x1="754.4" y1="392.7" x2="761.4" y2="381.7" stroke="#0f6dbd" stroke-width="1.3" stroke-linecap="round" />
<line x1="763.8" y1="377.5" x2="769.8" y2="368.5" stroke="#0b3d6b" stroke-width="1.0" stroke-linecap="round" />
<line x1="769.8" y1="377.5" x2="775.8" y2="368.5" stroke="#0b3d6b" stroke-width="1.0" stroke-linecap="round" />
<line x1="775.8" y1="377.5" x2="781.8" y2="368.5" stroke="#0b3d6b" stroke-width="1.0" stroke-linecap="round" />
<line x1="788.9" y1="376.7" x2="794.9" y2="367.7" stroke="#0b3d6b" stroke-width="1.0" stroke-linecap="round" />
<line x1="794.9" y1="376.7" x2="800.9" y2="367.7" stroke="#0b3d6b" stroke-width="1.0" stroke-linecap="round" />
<line x1="800.9" y1="376.7" x2="806.9" y2="367.7" stroke="#0b3d6b" stroke-width="1.0" stroke-linecap="round" />
<line x1="809.0" y1="385.7" x2="815.0" y2="376.7" stroke="#0b3d6b" stroke-width="1.0" stroke-linecap="round" />
<line x1="815.0" y1="385.7" x2="821.0" y2="376.7" stroke="#0b3d6b" stroke-width="1.0" stroke-linecap="round" />
<path d="M723.3 413.7 A63.5 60 0 0 1 850.3 413.7" fill="none" stroke="#1b1b1b" stroke-width="4" stroke-linecap="round" stroke-linejoin="round" />
<path d="M733.8 413.7 A53 52 0 0 1 754.2 372.7" fill="none" stroke="#1b1b1b" stroke-width="3.6" stroke-linecap="round" stroke-linejoin="round" />
<path d="M828.6 381.7 A53 52 0 0 1 839.8 413.7" fill="none" stroke="#1b1b1b" stroke-width="3.6" stroke-linecap="round" stroke-linejoin="round" />
<path d="M754.2 371.9 L759.9 368.0 L766.1 364.9 L772.6 362.6 L779.4 361.2 L786.3 360.7 L793.3 361.1 L800.1 362.4 L806.7 364.6 L812.9 367.6 L818.7 371.4 L823.9 375.9 L828.6 381.1 L812.8 393.4 L809.9 390.2 L806.7 387.3 L803.0 385.0 L799.2 383.1 L795.1 381.8 L790.8 380.9 L786.5 380.7 L782.2 381.0 L778.0 381.9 L773.9 383.3 L770.1 385.3 L766.5 387.7Z" fill="none" stroke="#1b1b1b" stroke-width="3.6" stroke-linecap="round" stroke-linejoin="round" />
<path d="M753.8 413.7 A33 31 0 0 1 766.5 389.3" fill="none" stroke="#1b1b1b" stroke-width="3.6" stroke-linecap="round" stroke-linejoin="round" />
<line x1="721.3" y1="413.7" x2="761.8" y2="413.7" stroke="#1b1b1b" stroke-width="4.2" stroke-linecap="round" />
<line x1="814.3" y1="413.7" x2="852.3" y2="413.7" stroke="#1b1b1b" stroke-width="4.2" stroke-linecap="round" />
<line x1="829.0" y1="400.2" x2="836.0" y2="396.0" stroke="#1b1b1b" stroke-width="1.8" stroke-linecap="round" />
<path d="M783.8 409.2 L829.7 384 L790.3 416.7Z" fill="#1b1b1b" stroke="#1b1b1b" stroke-width="2" stroke-linecap="round" stroke-linejoin="round" />
<circle cx="786.8" cy="413.7" r="13.5" fill="#1b1b1b"/><circle cx="786.3" cy="413.7" r="4.8" fill="#fff"/>
<text x="741.8" y="462" fill="#1b1b1b" textLength="91.5" lengthAdjust="spacingAndGlyphs" stroke="#1b1b1b" stroke-width="0.5" stroke-linejoin="round"><tspan font-size="31">C</tspan><tspan font-size="26.5">a</tspan><tspan font-size="26.5">c</tspan><tspan font-size="29">h</tspan><tspan font-size="26.5">i</tspan><tspan font-size="26.5">n</tspan><tspan font-size="26.5">g</tspan></text>
<rect x="163.5" y="574.7" width="99.5" height="69.69999999999993" rx="5" fill="none" stroke="#4a7cb0" stroke-width="1.6" stroke-dasharray="7 5.5"/>
<text x="174.0" y="603.4" fill="#1b5490" textLength="78.5" lengthAdjust="spacingAndGlyphs" stroke="#1b5490" stroke-width="0.45" stroke-linejoin="round"><tspan font-size="29.8">H</tspan><tspan font-size="24">a</tspan><tspan font-size="24">n</tspan><tspan font-size="28">d</tspan><tspan font-size="28">l</tspan><tspan font-size="24">e</tspan></text>
<text x="176.9" y="633.3" fill="#1b5490" textLength="71.5" lengthAdjust="spacingAndGlyphs" stroke="#1b5490" stroke-width="0.45" stroke-linejoin="round"><tspan font-size="29.8">T</tspan><tspan font-size="24">r</tspan><tspan font-size="24">a</tspan><tspan font-size="28">t</tspan><tspan font-size="28">f</tspan><tspan font-size="24">i</tspan><tspan font-size="24">c</tspan></text>
<line x1="274.5" y1="604.0" x2="307.0" y2="603.5" stroke="#1b5490" stroke-width="3" stroke-linecap="round" />
<path d="M296.7 598.5 L308.2 603.5 L296.0 610.5" fill="none" stroke="#1b5490" stroke-width="3" stroke-linecap="round" stroke-linejoin="round" />
<line x1="272.0" y1="627.0" x2="297.0" y2="625.7" stroke="#1b5490" stroke-width="3" stroke-linecap="round" />
<path d="M289.8 621.5 L298.6 625.7 L290.4 630.8" fill="none" stroke="#1b5490" stroke-width="3" stroke-linecap="round" stroke-linejoin="round" />
<path d="M312 593.5 L312 615 Q332.75 618 353.5 614 L353.5 593.5" fill="#fff" stroke="#1b1b1b" stroke-width="2.4" stroke-linecap="round" stroke-linejoin="round" /><path d="M312 593.5 Q332.75 590.5 353.5 593.5 M312 601 Q332.75 603.5 353.5 601" fill="none" stroke="#1b1b1b" stroke-width="2.4" stroke-linecap="round" stroke-linejoin="round" />
<line x1="291.0" y1="616.8" x2="324.7" y2="615.0" stroke="#1b1b1b" stroke-width="2.2" stroke-linecap="round" />
<line x1="294.0" y1="620.6" x2="302.0" y2="621.0" stroke="#1b1b1b" stroke-width="2.2" stroke-linecap="round" />
<path d="M326 610 L326 623.2 Q345.0 626.2 364 622.2 L364 610" fill="#fff" stroke="#1b1b1b" stroke-width="2.4" stroke-linecap="round" stroke-linejoin="round" /><path d="M326 610 Q345.0 607 364 610 M326 616.5 Q345.0 619.0 364 616.5" fill="none" stroke="#1b1b1b" stroke-width="2.4" stroke-linecap="round" stroke-linejoin="round" />
<path d="M302.5 620 L302.5 638.4 Q320.55 641.4 338.6 637.4 L338.6 620" fill="#fff" stroke="#1b1b1b" stroke-width="2.4" stroke-linecap="round" stroke-linejoin="round" /><path d="M302.5 620 Q320.55 617 338.6 620 M302.5 627 Q320.55 629.5 338.6 627" fill="none" stroke="#1b1b1b" stroke-width="2.4" stroke-linecap="round" stroke-linejoin="round" />
<line x1="343.0" y1="628.2" x2="358.3" y2="628.0" stroke="#1b1b1b" stroke-width="1.8" stroke-linecap="round" />
<line x1="343.7" y1="632.7" x2="349.4" y2="632.7" stroke="#1b1b1b" stroke-width="1.8" stroke-linecap="round" />
<line x1="355.0" y1="604.0" x2="380.0" y2="604.8" stroke="#1b1b1b" stroke-width="3" stroke-linecap="round" />
<path d="M369.0 600.0 L381.8 604.8 L367.8 612.0" fill="none" stroke="#1b1b1b" stroke-width="3" stroke-linecap="round" stroke-linejoin="round" />
<rect x="397.6" y="575.3" width="90.19999999999999" height="71.40000000000009" rx="5" fill="none" stroke="#4a7cb0" stroke-width="1.6" stroke-dasharray="7 5.5"/>
<text x="409.2" y="603.4" fill="#1b5490" textLength="63.9" lengthAdjust="spacingAndGlyphs" stroke="#1b5490" stroke-width="0.45" stroke-linejoin="round"><tspan font-size="29.8">S</tspan><tspan font-size="28">t</tspan><tspan font-size="24">o</tspan><tspan font-size="24">r</tspan><tspan font-size="24">e</tspan></text>
<text x="412.8" y="635.6" fill="#1b5490" textLength="56.2" lengthAdjust="spacingAndGlyphs" stroke="#1b5490" stroke-width="0.45" stroke-linejoin="round"><tspan font-size="29.8">D</tspan><tspan font-size="24">a</tspan><tspan font-size="28">t</tspan><tspan font-size="24">a</tspan></text>
<line x1="496.6" y1="607.4" x2="533.0" y2="606.3" stroke="#1b1b1b" stroke-width="3.3" stroke-linecap="round" />
<path d="M521.8 601.0 L534.5 606.3 L520.2 614.0" fill="none" stroke="#1b1b1b" stroke-width="3.3" stroke-linecap="round" stroke-linejoin="round" />
<path d="M576.0 598.5 L581.2 599.3 L581.2 604.5 L576.0 605.3 L574.3 609.5 L577.4 613.7 L573.7 617.4 L569.5 614.3 L565.3 616.0 L564.5 621.2 L559.3 621.2 L558.5 616.0 L554.3 614.3 L550.1 617.4 L546.4 613.7 L549.5 609.5 L547.8 605.3 L542.6 604.5 L542.6 599.3 L547.8 598.5 L549.5 594.3 L546.4 590.1 L550.1 586.4 L554.3 589.5 L558.5 587.8 L559.3 582.6 L564.5 582.6 L565.3 587.8 L569.5 589.5 L573.7 586.4 L577.4 590.1 L574.3 594.3Z" fill="#fff" stroke="#1b1b1b" stroke-width="3.3" stroke-linecap="round" stroke-linejoin="round" /><circle cx="561.9" cy="601.9" r="6.8" fill="none" stroke="#1b1b1b" stroke-width="2.64"/>
<path d="M552.4 628.8 L556.1 629.3 L556.1 632.7 L552.4 633.2 L551.3 636.0 L553.5 638.9 L551.1 641.3 L548.2 639.1 L545.4 640.2 L544.9 643.9 L541.5 643.9 L541.0 640.2 L538.2 639.1 L535.3 641.3 L532.9 638.9 L535.1 636.0 L534.0 633.2 L530.3 632.7 L530.3 629.3 L534.0 628.8 L535.1 626.0 L532.9 623.1 L535.3 620.7 L538.2 622.9 L541.0 621.8 L541.5 618.1 L544.9 618.1 L545.4 621.8 L548.2 622.9 L551.1 620.7 L553.5 623.1 L551.3 626.0Z" fill="#fff" stroke="#1b1b1b" stroke-width="2.8" stroke-linecap="round" stroke-linejoin="round" /><circle cx="543.2" cy="631" r="4.2" fill="none" stroke="#1b1b1b" stroke-width="2.2399999999999998"/>
<rect x="597.9" y="575.3" width="104.30000000000007" height="69.70000000000005" rx="5" fill="none" stroke="#4a7cb0" stroke-width="1.6" stroke-dasharray="7 5.5"/>
<text x="603.7" y="602.2" fill="#1b5490" textLength="79.1" lengthAdjust="spacingAndGlyphs" stroke="#1b5490" stroke-width="0.45" stroke-linejoin="round"><tspan font-size="29.8">P</tspan><tspan font-size="24">r</tspan><tspan font-size="24">o</tspan><tspan font-size="24">c</tspan><tspan font-size="24">e</tspan><tspan font-size="24">s</tspan><tspan font-size="24">s</tspan></text>
<text x="604.2" y="633.8" fill="#1b5490" textLength="95.5" lengthAdjust="spacingAndGlyphs" stroke="#1b5490" stroke-width="0.45" stroke-linejoin="round"><tspan font-size="29.8">R</tspan><tspan font-size="24">e</tspan><tspan font-size="24">q</tspan><tspan font-size="24">u</tspan><tspan font-size="24">e</tspan><tspan font-size="24">s</tspan><tspan font-size="28">t</tspan><tspan font-size="24">s</tspan></text>
<path d="M712.7 607.4 Q728 605 742.9 605.7" fill="none" stroke="#1b1b1b" stroke-width="3.6" stroke-linecap="round" stroke-linejoin="round" />
<path d="M742.9 605.7 L734.6 611.2" fill="none" stroke="#1b1b1b" stroke-width="3.6" stroke-linecap="round" stroke-linejoin="round" />
<circle cx="740.7" cy="597.5" r="1.1" fill="#1b1b1b"/><circle cx="742.9" cy="613.4" r="1.1" fill="#1b1b1b"/>
<path d="M797 578 Q800 576.5 804 576.5 L895 576.5 Q900.5 576.5 900.5 582 L900.5 640 Q900.5 646.2 895 646.2 L797 646.2" fill="none" stroke="#3f74aa" stroke-width="1.6" stroke-linecap="round" stroke-linejoin="round" stroke-dasharray="7 5" stroke-linecap="butt"/>
<path d="M774.7 583.8 Q762 596 748.4 598 Q748 630 774.7 643.6 Q800 630 801 595.9 Q786 596 774.7 583.8Z" fill="#fff" stroke="#1b1b1b" stroke-width="3.8" stroke-linecap="round" stroke-linejoin="round" />
<defs><clipPath id="sh"><path d="M775.3 593.7 Q766 603 756 604 Q757 627 774.7 634.8 Q793 627 794.5 601.3 Q784 601 775.3 593.7Z"/></clipPath></defs>
<g clip-path="url(#sh)"><line x1="713.0" y1="640.0" x2="753.0" y2="610.0" stroke="#0f6dbd" stroke-width="1.3" stroke-linecap="round" /><line x1="721.0" y1="640.0" x2="761.0" y2="610.0" stroke="#0f6dbd" stroke-width="1.3" stroke-linecap="round" /><line x1="729.0" y1="640.0" x2="769.0" y2="610.0" stroke="#0f6dbd" stroke-width="1.3" stroke-linecap="round" /><line x1="737.0" y1="640.0" x2="777.0" y2="610.0" stroke="#0f6dbd" stroke-width="1.3" stroke-linecap="round" /><line x1="745.0" y1="640.0" x2="785.0" y2="610.0" stroke="#0f6dbd" stroke-width="1.3" stroke-linecap="round" /><line x1="753.0" y1="640.0" x2="793.0" y2="610.0" stroke="#0f6dbd" stroke-width="1.3" stroke-linecap="round" /><line x1="761.0" y1="640.0" x2="801.0" y2="610.0" stroke="#0f6dbd" stroke-width="1.3" stroke-linecap="round" /><line x1="769.0" y1="640.0" x2="809.0" y2="610.0" stroke="#0f6dbd" stroke-width="1.3" stroke-linecap="round" /><line x1="777.0" y1="640.0" x2="817.0" y2="610.0" stroke="#0f6dbd" stroke-width="1.3" stroke-linecap="round" /></g>
<path d="M775.3 593.7 Q766 603 756 604 Q757 627 774.7 634.8 Q793 627 794.5 601.3 Q784 601 775.3 593.7Z" fill="none" stroke="#1b1b1b" stroke-width="3" stroke-linecap="round" stroke-linejoin="round" />
<path d="M762 614 L771.4 623.3 L792 601" fill="none" stroke="#1b1b1b" stroke-width="5.5" stroke-linecap="round" stroke-linejoin="round" />
<circle cx="792.5" cy="601" r="1.5" fill="#fff"/>
<text x="806.1" y="604.3" fill="#1b5490" textLength="72.7" lengthAdjust="spacingAndGlyphs" stroke="#1b5490" stroke-width="0.45" stroke-linejoin="round"><tspan font-size="29.8">E</tspan><tspan font-size="24">n</tspan><tspan font-size="24">s</tspan><tspan font-size="24">u</tspan><tspan font-size="24">r</tspan><tspan font-size="24">e</tspan></text>
<text x="806.7" y="635.4" fill="#1b5490" textLength="101.9" lengthAdjust="spacingAndGlyphs" stroke="#1b5490" stroke-width="0.45" stroke-linejoin="round"><tspan font-size="29.8">R</tspan><tspan font-size="24">e</tspan><tspan font-size="28">l</tspan><tspan font-size="24">i</tspan><tspan font-size="24">a</tspan><tspan font-size="28">b</tspan><tspan font-size="24">i</tspan><tspan font-size="28">l</tspan><tspan font-size="24">i</tspan><tspan font-size="28">t</tspan><tspan font-size="24">y</tspan></text>
<rect x="0" y="681.5" width="1024" height="1.5" fill="#6a6a6a"/>
</svg></body></html>
